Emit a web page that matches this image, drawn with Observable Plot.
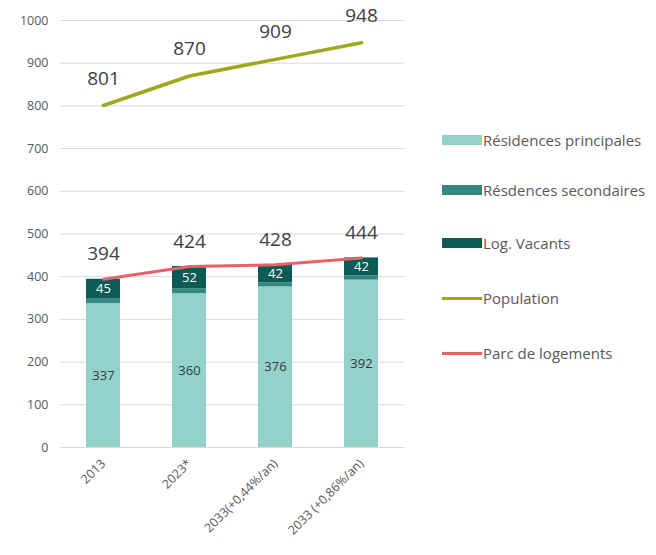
<!DOCTYPE html>
<html>
<head>
<meta charset="utf-8">
<script src="https://cdn.jsdelivr.net/npm/d3@7"></script>
<script src="https://cdn.jsdelivr.net/npm/@observablehq/plot@0.6"></script>
<style>
  body { margin: 0; background: #fff; font-family: "Open Sans", sans-serif; }
  #wrap { position: relative; width: 656px; height: 555px; overflow: hidden; }
  #chart { position: absolute; left: 0; top: 0; }
  .leg { position: absolute; left: 442px; display: flex; align-items: center; font-size: 15px; color: #595959; white-space: nowrap; }
  .sw { width: 40px; margin-right: 1px; }
</style>
</head>
<body>
<div id="wrap"><div id="chart"></div><div id="legend"></div></div>
<script>
const categories = ["2013", "2023*", "2033(+0,44%/an)", "2033 (+0,86%/an)"];
const seriesNames = ["Résidences principales", "Résdences secondaires", "Log. Vacants"];
const principales = [337, 360, 376, 392];
const secondaires = [12, 12, 10, 10];
const vacants = [45, 52, 42, 42];
const population = [801, 870, 909, 948];
const parc = [394, 424, 428, 444];
const seriesColors = ["#93d2cb", "#33887f", "#0c5c55"];
const popColor = "#9caa1c";
const parcColor = "#e9616b";

const stacked = [];
categories.forEach((c, i) => {
  stacked.push({cat: c, series: seriesNames[0], value: principales[i], label: String(principales[i]), tc: "#3a3a3a"});
  stacked.push({cat: c, series: seriesNames[1], value: secondaires[i], label: "", tc: "#fff"});
  stacked.push({cat: c, series: seriesNames[2], value: vacants[i], label: String(vacants[i]), tc: "#fff"});
});
const popData = categories.map((c, i) => ({cat: c, v: population[i]}));
const parcData = categories.map((c, i) => ({cat: c, v: parc[i]}));

const chart = Plot.plot({
  width: 420,
  height: 555,
  marginTop: 20,
  marginBottom: 108,
  marginLeft: 60,
  marginRight: 15,
  style: {fontFamily: "Open Sans, sans-serif", background: "transparent"},
  x: {domain: categories, paddingInner: 0.6, paddingOuter: 0.3, label: null, tickSize: 0, tickRotate: -45, tickPadding: 14},
  y: {domain: [0, 1000], ticks: d3.range(0, 1001, 100), tickFormat: d => String(d), label: null, tickSize: 0, tickPadding: 12, grid: false},
  color: {domain: seriesNames, range: seriesColors},
  marks: [
    Plot.ruleY(d3.range(0, 1001, 100), {stroke: "#d9d9d9", strokeWidth: 1}),
    Plot.barY(stacked, Plot.stackY({x: "cat", y: "value", fill: "series", order: seriesNames})),
    Plot.text(stacked, Plot.stackY({x: "cat", y: "value", z: "series", order: seriesNames, text: "label", fill: "tc", fontSize: 13})),
    Plot.line(popData, {x: "cat", y: "v", stroke: popColor, strokeWidth: 3.5}),
    Plot.text(popData, {x: "cat", y: "v", text: d => String(d.v), dy: -27, fontSize: 19, fill: "#404040"}),
    Plot.line(parcData, {x: "cat", y: "v", stroke: parcColor, strokeWidth: 3}),
    Plot.text(parcData, {x: "cat", y: "v", text: d => String(d.v), dy: -25, fontSize: 19, fill: "#404040"})
  ]
});
chart.querySelectorAll("g[aria-label$='tick label']").forEach(g => { g.setAttribute("font-size", "12.5"); g.setAttribute("fill", "#595959"); });
document.getElementById("chart").appendChild(chart);

const legendItems = [
  {name: seriesNames[0], color: seriesColors[0], type: "rect", y: 140},
  {name: seriesNames[1], color: seriesColors[1], type: "rect", y: 190},
  {name: seriesNames[2], color: seriesColors[2], type: "rect", y: 243},
  {name: "Population", color: popColor, type: "line", y: 298},
  {name: "Parc de logements", color: parcColor, type: "line", y: 353}
];
const leg = document.getElementById("legend");
legendItems.forEach(it => {
  const row = document.createElement("div");
  row.className = "leg";
  row.style.top = (it.y - 10) + "px";
  row.style.height = "20px";
  const sw = document.createElement("div");
  sw.className = "sw";
  sw.style.background = it.color;
  sw.style.height = it.type === "rect" ? "10px" : "3px";
  row.appendChild(sw);
  const t = document.createElement("span");
  t.textContent = it.name;
  row.appendChild(t);
  leg.appendChild(row);
});
</script>
</body>
</html>
